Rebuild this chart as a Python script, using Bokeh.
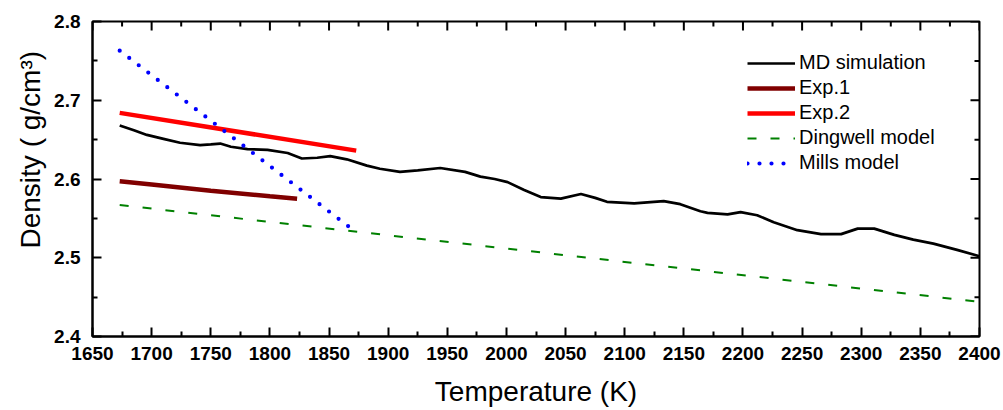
import math
from bokeh.plotting import figure
from bokeh.models import Range1d, FixedTicker, Legend, LegendItem, Title
from bokeh.embed import file_html
from bokeh.resources import INLINE

# ---- data ----
md_T = [1673, 1685, 1696, 1710, 1724, 1741, 1750, 1758, 1767, 1781, 1798, 1815, 1827, 1840,
        1851, 1865, 1882, 1893, 1910, 1925, 1944, 1965, 1978, 1990, 2001, 2015, 2029, 2046,
        2063, 2075, 2085, 2108, 2133, 2147, 2164, 2170, 2187, 2198, 2212, 2226, 2246, 2266,
        2283, 2297, 2311, 2328, 2344, 2361, 2381, 2400]
md_D = [2.668, 2.662, 2.656, 2.651, 2.646, 2.643, 2.644, 2.645, 2.641, 2.638, 2.637, 2.633, 2.626, 2.627,
        2.629, 2.625, 2.617, 2.613, 2.609, 2.611, 2.614, 2.609, 2.603, 2.600, 2.596, 2.586, 2.577, 2.575,
        2.581, 2.576, 2.571, 2.569, 2.572, 2.568, 2.559, 2.557, 2.555, 2.558, 2.554, 2.545, 2.535, 2.530,
        2.530, 2.537, 2.537, 2.529, 2.523, 2.518, 2.510, 2.502]

exp1_T = [1673, 1700, 1750, 1800, 1823]
exp1_D = [2.597, 2.593, 2.585, 2.578, 2.575]

exp2_T = [1673, 1873]
exp2_D = [2.684, 2.636]

ding_T = [1673, 2400]
ding_D = [2.567, 2.444]

mills_T = [1673, 1868]
mills_D = [2.763, 2.538]

x_ticks = list(range(1650, 2401, 50))
x_minor = list(range(1675, 2400, 50))
y_ticks = [2.4, 2.5, 2.6, 2.7, 2.8]
y_minor = [2.45, 2.55, 2.65, 2.75]

X_MIN, X_MAX = 1650, 2400
Y_MIN, Y_MAX = 2.4, 2.8

FONT = "Liberation Sans"
SOLID = "4000 1"   # explicit (effectively solid) dash so no earlier dash pattern carries over

p = figure(width=1003, height=410, output_backend="svg", toolbar_location=None,
           x_range=Range1d(X_MIN, X_MAX), y_range=Range1d(Y_MIN, Y_MAX),
           min_border_left=92, min_border_right=24, min_border_top=21, min_border_bottom=74)
p.xgrid.visible = False
p.ygrid.visible = False
p.outline_line_color = "black"
p.outline_line_width = 2

r_md = p.line(md_T, md_D, line_color="black", line_width=2.7, line_dash=SOLID)
r_e1 = p.line(exp1_T, exp1_D, line_color="#800000", line_width=4.5, line_dash=SOLID)
r_e2 = p.line(exp2_T, exp2_D, line_color="#ff0000", line_width=4.5, line_dash=SOLID)
r_dw = p.line(ding_T, ding_D, line_color="#008000", line_width=2, line_dash="9 14")
r_ml = p.line(mills_T, mills_D, line_color="#0000ff", line_width=4.2, line_dash="0 12",
              line_cap="round")

# mirrored inward ticks on the top and right edges (dash markers centred on the edge;
# the frame clips the outer half, leaving an inward tick)
tick_style = dict(marker="dash", line_color="black", line_width=2, line_dash="100 1",
                  line_cap="butt")
p.scatter(x_ticks, [Y_MAX] * len(x_ticks), size=18, angle=math.pi / 2, **tick_style)
p.scatter(x_minor, [Y_MAX] * len(x_minor), size=10, angle=math.pi / 2, **tick_style)
p.scatter([X_MAX] * len(y_ticks), y_ticks, size=18, angle=0, **tick_style)
p.scatter([X_MAX] * len(y_minor), y_minor, size=10, angle=0, **tick_style)

def style_axis(ax, ticks, minor):
    ax.ticker = FixedTicker(ticks=ticks, minor_ticks=minor)
    ax.axis_line_color = "black"
    ax.axis_line_width = 2
    ax.axis_line_dash = SOLID
    ax.major_tick_line_color = "black"
    ax.minor_tick_line_color = "black"
    ax.major_tick_line_width = 2
    ax.minor_tick_line_width = 2
    ax.major_tick_line_dash = "100 1"
    ax.minor_tick_line_dash = "100 1"
    ax.major_tick_in = 9
    ax.major_tick_out = 0
    ax.minor_tick_in = 5
    ax.minor_tick_out = 0
    ax.major_label_text_font = FONT
    ax.major_label_text_font_style = "bold"
    ax.major_label_text_font_size = "19px"
    ax.major_label_text_color = "black"

xa = p.below[0]
ya = p.left[0]
style_axis(xa, x_ticks, x_minor)
style_axis(ya, y_ticks, y_minor)
xa.major_label_standoff = 10
ya.major_label_standoff = 12
xa.axis_label = "Temperature (K)"
xa.axis_label_text_font = FONT
xa.axis_label_text_font_style = "normal"
xa.axis_label_text_font_size = "28px"
xa.axis_label_standoff = 13
xa.axis_label_text_color = "black"

ytitle = Title(text="Density ( g/cm³)", align="left", offset=88, standoff=12,
               text_font=FONT, text_font_size="28px", text_font_style="normal",
               text_color="black")
p.add_layout(ytitle, "left")

legend = Legend(items=[
    LegendItem(label="MD simulation", renderers=[r_md]),
    LegendItem(label="Exp.1", renderers=[r_e1]),
    LegendItem(label="Exp.2", renderers=[r_e2]),
    LegendItem(label="Dingwell model", renderers=[r_dw]),
    LegendItem(label="Mills model", renderers=[r_ml]),
], location=(655, 162))
legend.border_line_alpha = 0
legend.background_fill_alpha = 0
legend.padding = 0
legend.margin = 0
legend.spacing = 2
legend.glyph_width = 48
legend.glyph_height = 22
legend.label_height = 22
legend.label_standoff = 4
legend.label_text_font = FONT
legend.label_text_font_size = "20px"
legend.label_text_color = "black"
p.add_layout(legend)

open("out.html", "w").write(file_html(p, INLINE))
